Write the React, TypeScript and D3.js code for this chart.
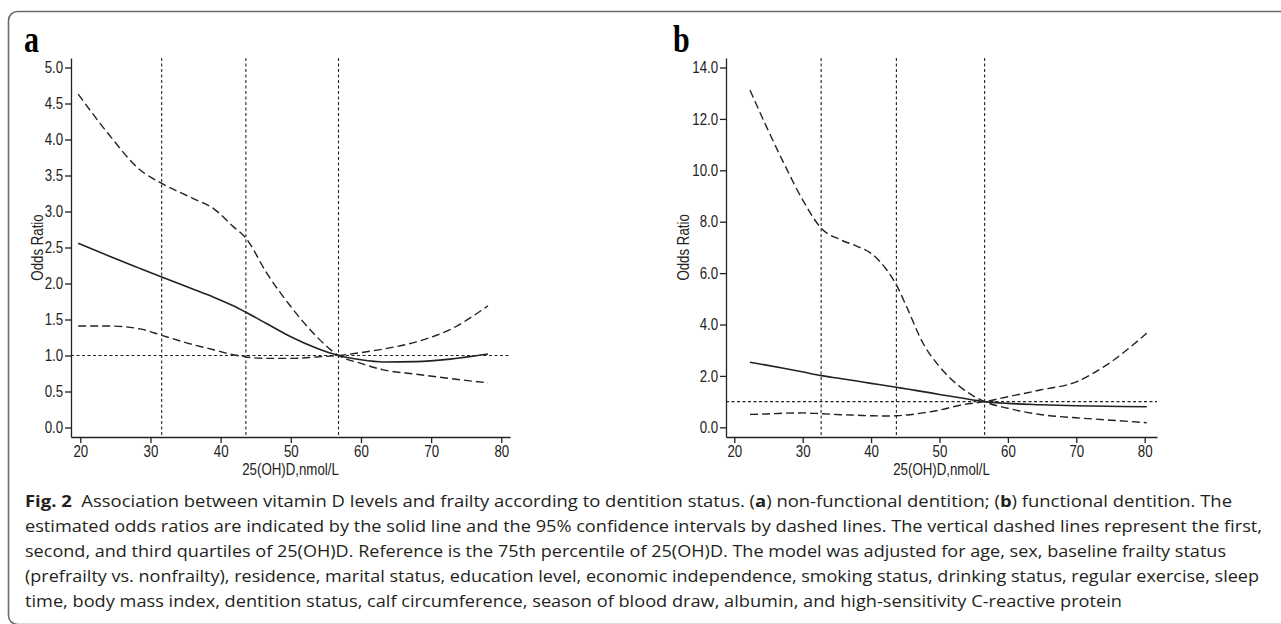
import React, { useEffect, useRef } from "react";
import * as d3 from "d3";

// panel a: non-functional dentition (x in nmol/L, y = odds ratio)
const xA = [19.7, 23.9, 28.5, 31.6, 36.1, 39.0, 41.8, 43.6, 46.6, 50, 53.7, 56.8, 60, 63.2, 67.9, 72.7, 78.1];
const orA = [2.56, 2.39, 2.21, 2.09, 1.92, 1.81, 1.69, 1.60, 1.44, 1.26, 1.10, 1.0, 0.94, 0.91, 0.915, 0.95, 1.02];
// the two dashed CI curves cross at the reference point
const ciA1 = [4.63, 4.09, 3.58, 3.39, 3.18, 3.04, 2.79, 2.63, 2.14, 1.68, 1.26, 1.0, 0.89, 0.80, 0.74, 0.68, 0.62];
const ciA2 = [1.41, 1.41, 1.37, 1.28, 1.15, 1.08, 1.01, 0.98, 0.96, 0.96, 0.98, 1.0, 1.04, 1.09, 1.19, 1.36, 1.69];
const quartA = [31.6, 43.6, 56.8];
const yTicksA = [0, 0.5, 1, 1.5, 2, 2.5, 3, 3.5, 4, 4.5, 5];

// panel b: functional dentition
const xB = [22.3, 24.7, 27.2, 30.1, 32.7, 35.5, 37.9, 40, 42.3, 43.7, 45.2, 47.6, 50, 53, 56.6, 60, 64.7, 70, 74.4, 80.3];
const orB = [2.53, 2.42, 2.30, 2.15, 2.01, 1.90, 1.80, 1.71, 1.62, 1.56, 1.49, 1.39, 1.28, 1.15, 1.0, 0.93, 0.88, 0.84, 0.82, 0.80];
const ciB1 = [13.12, 11.7, 10.3, 8.8, 7.75, 7.3, 7.05, 6.77, 6.12, 5.54, 4.69, 3.27, 2.36, 1.58, 1.0, 0.74, 0.5, 0.37, 0.29, 0.18];
const ciB2 = [0.5, 0.52, 0.55, 0.56, 0.53, 0.49, 0.47, 0.45, 0.44, 0.45, 0.48, 0.56, 0.67, 0.86, 1.0, 1.19, 1.45, 1.77, 2.42, 3.66];
const quartB = [32.7, 43.7, 56.6];
const yTicksB = [0, 2, 4, 6, 8, 10, 12, 14];

const xTicks = [20, 30, 40, 50, 60, 70, 80];

const captionLines = [
  [["Fig. 2", true], ["  Association between vitamin D levels and frailty according to dentition status. (", false], ["a", true], [") non-functional dentition; (", false], ["b", true], [") functional dentition. The", false]],
  [["estimated odds ratios are indicated by the solid line and the 95% confidence intervals by dashed lines. The vertical dashed lines represent the first,", false]],
  [["second, and third quartiles of 25(OH)D. Reference is the 75th percentile of 25(OH)D. The model was adjusted for age, sex, baseline frailty status", false]],
  [["(prefrailty vs. nonfrailty), residence, marital status, education level, economic independence, smoking status, drinking status, regular exercise, sleep", false]],
  [["time, body mass index, dentition status, calf circumference, season of blood draw, albumin, and high-sensitivity C-reactive protein", false]],
];
const captionEnds = [1232, 1262, 1226, 1259, 1122];

const axisFont = '"Liberation Sans", Arial, Helvetica, sans-serif';
const narrow = 0.83; // the original uses a condensed Helvetica
const ink = "#222";

function Panel({ letter, letterX, xs, or, ci1, ci2, quart, xDomain, xRange, yDomain, yTicks, yLabelX }) {
  const ref = useRef(null);

  useEffect(() => {
    const g = d3.select(ref.current);
    g.selectAll("*").remove();

    const x = d3.scaleLinear().domain(xDomain).range(xRange);
    const y = d3.scaleLinear().domain(yDomain).range([437, 58]);

    // quartile lines and OR = 1
    g.selectAll(".vq")
      .data(quart)
      .enter()
      .append("line")
      .attr("x1", (d) => x(d))
      .attr("x2", (d) => x(d))
      .attr("y1", y.range()[1])
      .attr("y2", y.range()[0])
      .attr("stroke", ink)
      .attr("stroke-width", 1.1)
      .attr("stroke-dasharray", "3,2.5");

    g.append("line")
      .attr("x1", xRange[0])
      .attr("x2", xRange[1])
      .attr("y1", y(1))
      .attr("y2", y(1))
      .attr("stroke", ink)
      .attr("stroke-width", 1.1)
      .attr("stroke-dasharray", "3,2.5");

    const line = (vals) =>
      d3
        .line()
        .x((d, i) => x(xs[i]))
        .y((d) => y(d))
        .curve(d3.curveMonotoneX)(vals);

    g.append("path").attr("d", line(ci1)).attr("fill", "none").attr("stroke", ink).attr("stroke-width", 1.4).attr("stroke-dasharray", "8,4");
    g.append("path").attr("d", line(ci2)).attr("fill", "none").attr("stroke", ink).attr("stroke-width", 1.4).attr("stroke-dasharray", "8,4");
    g.append("path").attr("d", line(or)).attr("fill", "none").attr("stroke", ink).attr("stroke-width", 1.6);

    const yAxis = g
      .append("g")
      .attr("transform", `translate(${xRange[0]},0)`)
      .call(d3.axisLeft(y).tickValues(yTicks).tickFormat(d3.format(".1f")).tickSize(6).tickPadding(3.5).tickSizeOuter(0));

    const xAxis = g
      .append("g")
      .attr("transform", `translate(0,${y.range()[0]})`)
      .call(d3.axisBottom(x).tickValues(xTicks).tickSize(6).tickPadding(3).tickSizeOuter(0));

    [yAxis, xAxis].forEach((a) => {
      a.selectAll("path, line").attr("stroke", ink).attr("stroke-width", 1.3);
      a.selectAll("text")
        .attr("fill", ink)
        .attr("transform", `scale(${narrow},1)`)
        .style("font-family", axisFont)
        .style("font-size", "16px");
    });

    g.append("text")
      .attr("transform", `translate(${(xRange[0] + xRange[1]) / 2},475) scale(${narrow},1)`)
      .attr("text-anchor", "middle")
      .attr("fill", ink)
      .style("font-family", axisFont)
      .style("font-size", "16px")
      .text("25(OH)D,nmol/L");

    g.append("text")
      .attr("transform", `translate(${yLabelX},${(y(yTicks[0]) + y(yTicks[yTicks.length - 1])) / 2}) rotate(-90) scale(${narrow},1)`)
      .attr("text-anchor", "middle")
      .attr("fill", ink)
      .style("font-family", axisFont)
      .style("font-size", "16px")
      .text("Odds Ratio");

    g.append("text")
      .attr("transform", `translate(${letterX},52) scale(0.77,1)`)
      .attr("fill", "#000")
      .style("font-family", '"Liberation Serif", "DejaVu Serif", serif')
      .style("font-weight", "bold")
      .style("font-size", "39px")
      .text(letter);
  });

  return <g ref={ref} />;
}

export default function App() {
  useEffect(() => {
    document.body.style.margin = "0";
  }, []);

  return (
    <svg width={1281} height={624} style={{ display: "block", background: "#fff" }}>
      <rect x={8.5} y={11.5} width={1300} height={613} rx={9} fill="none" stroke="#6b6b6b" strokeWidth={1.6} />
      <Panel
        letter="a"
        letterX={24}
        xs={xA}
        or={orA}
        ci1={ciA1}
        ci2={ciA2}
        quart={quartA}
        xDomain={[18.675, 81.24]}
        xRange={[71, 510]}
        yDomain={[-0.132, 5.132]}
        yTicks={yTicksA}
        yLabelX={43}
      />
      <Panel
        letter="b"
        letterX={673}
        xs={xB}
        or={orB}
        ci1={ciB1}
        ci2={ciB2}
        quart={quartB}
        xDomain={[18.79, 81.8]}
        xRange={[726, 1157]}
        yDomain={[-0.377, 14.37]}
        yTicks={yTicksB}
        yLabelX={689}
      />
      {captionLines.map((parts, i) => (
        <text
          key={i}
          x={25}
          y={507 + i * 25}
          textLength={captionEnds[i] - 25}
          lengthAdjust="spacingAndGlyphs"
          fill="#231f20"
          style={{ fontFamily: '"Open Sans", "Noto Sans", sans-serif', fontSize: "15.5px", whiteSpace: "pre" }}
        >
          {parts.map(([t, b], j) => (
            <tspan key={j} fontWeight={b ? "bold" : "normal"}>
              {t}
            </tspan>
          ))}
        </text>
      ))}
    </svg>
  );
}
